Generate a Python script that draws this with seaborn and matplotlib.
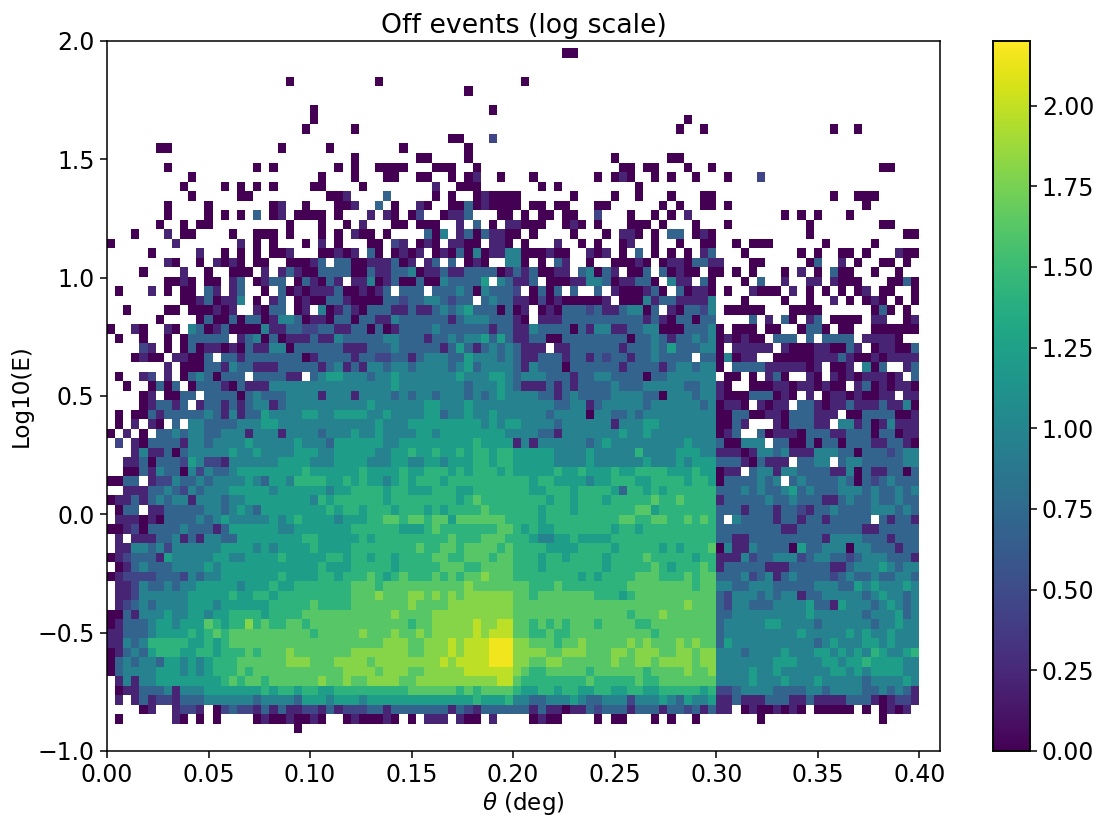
import numpy as np
import matplotlib
matplotlib.use("Agg")
import matplotlib.pyplot as plt
import seaborn as sns

# one character per cell, top row first, '.' = empty bin
# characters are indexes into level_values (log10 of the counts)
level_values = [0.0, 0.22, 0.45, 0.70, 0.97, 1.22, 1.42, 1.62, 1.80, 1.98, 2.15]
E = ".........."
rows = [
    f"{E} {E} {E} {E} {E} ......00.. {E} {E} {E} {E}",
    f"{E} {E} {E} {E} {E} {E} {E} {E} {E} {E}",
    f"{E} {E} {E} {E} {E} {E} {E} {E} {E} {E}",
    f"{E} {E} ..0....... ...0...... {E} .0........ {E} {E} {E} {E}",
    f"{E} {E} {E} {E} ....0..... {E} {E} {E} {E} {E}",
    f"{E} {E} {E} {E} {E} {E} {E} {E} {E} {E}",
    f"{E} {E} .....0.... {E} .......0.. {E} {E} {E} {E} {E}",
    f"{E} {E} .....0.... {E} {E} {E} {E} .0........ {E} {E}",
    f"{E} {E} ....0..... 0......... {E} {E} {E} 0..0...... .........0 ..0.......",
    f"{E} {E} {E} {E} ..00...2.. {E} {E} {E} {E} {E}",
    f"......00.. {E} .0.....0.. ......0... ....0..... {E} {E} {E} {E} {E}",
    f"{E} {E} {E} 0.......00 ....0..... {E} ..0......0 0......... {E} {E}",
    f".......0.. ........0. 0.......0. 0..0000... 000..0.... {E} ...00.00.. .0..0..... {E} .....00...",
    f"{E} 0......... ......0... 0...00..00 ..0.01..0. ..0....... 0.010..0.0 ..0...0... 2......... {E}",
    f".........0 ....0.0.0. 0....00... .0........ 1..000.... ...0.0.... .....0.... {E} {E} {E}",
    f"{E} 0.....00.. .......001 ....3..... 0.0..01000 0......0.. ..0..0...0 ...00..... .........0 ..000.....",
    f".......0.. ..0....... 01..0...00 1..3.0..10 ..00301000 0.00.00... 00......0. 0..00.0... {E} ...0......",
    f".......0.. ..0.0.0.3. 01.0000.0. ..1.10.02. .0113...00 .0.00.00.. 2...0..0.0 .1........ ...0.0.0.. .0........",
    f"......0..0 .00....... ..0...0..0 .1...00.00 0..1.3.0.1 1000..010. 0...000.0. ..0...0... ......0... .....00...",
    f"...0...1.0 0....0..00 0.0...0.0. 100.0....3 04.1303110 0.0....0.. .0.110.0.3 3.010..... ......0... ........00",
    f"0.......1. ......1.0. 0...0.1.0. ..00.21.01 0.1100.110 .0...1..0. 0..01..0.. 0..00..0.0 00......0. ....0.....",
    f".....0.... .1..0.0.0. 001...0010 1.30.0101. 0103040114 4000100..1 01.0.3.0.0 .0.13...0. .....0.0.. 00.0...100",
    f".......10. .0.1010.00 ..00013.33 00111301.1 3.3.010..4 40.0.31..0 ..00010.01 103311...0 0.....03.. 1.0..00.0.",
    f"....0....1 ..0..000.1 .131003333 0031133401 1311333301 3130011.34 031.003.30 100.00.0.0 ...0.1.0.3 00..0..0..",
    f".......001 0.00.13.01 33.031031. 1140130030 0433335.43 113.000114 43011330.4 11.30...0. 3..1..11.1 000...0030",
    ".0...1.0.0 0.31.13..0 .301011130 01013.333. 3334304333 2.0303.3.. 3.1000130. 30110.0..1 000.1.0.0. 0.01.00..0",
    ".........0 0130114.0. 13.0100331 0000332334 43233.3433 1102010000 01.0004133 11114...0. ...0..0..1 .0.010.0.0",
    "..0....00. 000101..10 33.01.4013 1033311311 3434533303 01.0103332 31134403.1 03324.0000 0...0000.. ....030.0.",
    "......0... .030030330 1443011033 0331143333 3313444333 10.1113333 3333331310 33033....3 .1.30.13.0 000.11..01",
    "0..10..10. 4301300004 1133223311 3303013333 4333333133 1143333031 4411334400 033340.000 .00..0330. 00..000000",
    ".0..0..0.0 33333.1340 3011131143 3333443331 3343445353 1133003333 3333033431 3343401010 0.333.3.33 33.11110..",
    "....21.0.0 3011010311 4403333331 1133343333 3135313434 3111.11333 3331333435 333440.111 11.1000110 031.011003",
    "...0100.11 003.331333 3333013333 1332233134 4433544434 3113331331 3233133433 33.3304011 ..00000111 3100101111",
    ".......1.0 0033143311 1333331341 3144344344 4434534444 3143330333 3331333313 443440.333 31111101.0 01.403..13",
    ".0..12.1.0 3430333.33 3311.34554 4434454444 4445444554 3444333133 4433330334 44444.00.0 .130..10.1 01011101.3",
    "..0..0303. 0333103111 4444444444 4444454444 4444344454 3111313133 3343334444 4334410..0 0011011010 0.13010110",
    "....01.003 3.33330343 3344441444 1444434344 3444343454 4443313433 3344443304 4434410003 33010.1.01 1010011.11",
    "....013313 .133131344 1344444444 4454444445 5444544444 4444433441 3444443444 444340110. 1011.33101 1311131140",
    ".0.0031333 3343141335 4444554455 5544544445 5344544544 4444344440 4433434444 4444400330 0110333111 .003333001",
    ".0.1.10.3. 4433334445 5444444444 4445444555 5555554545 5444434444 4414445544 444440031. ..1033311. 4413014111",
    "0.1.0.3343 4433444144 4144443444 5445444455 4555555554 4443314444 4445445444 44444013.. 3011103331 1333033011",
    ".2.1033331 4434444544 4445444355 5555445555 5555565555 1414444443 4544444444 4544430044 4.33003033 0333113310",
    "...1411303 4444454454 4445554455 5554455655 6556566566 5555544445 4444464444 5554411101 4434111444 3303332344",
    "..11303332 5422144444 4555544455 5544455445 5455566566 5555544445 4444445444 5455533310 3111.3344. 3443333344",
    "..00314330 4243345555 5555655555 5655556556 6656566656 5555565565 5565566665 55655011.3 4414433331 1403113303",
    "0033.12243 3434444543 5546666556 5655456566 6566666666 6656655554 5566655666 6566503333 434.343333 4303234333",
    "..11133432 4344455555 4555555455 6666566555 6665566666 6655666566 6653665656 6666633343 4334534333 4443433434",
    "0113134344 1444344555 5555546566 6666566666 6665676666 6666566566 6566666766 7666613333 3433433311 3433433433",
    ".033.11333 3344345435 5555555656 6566656665 6566667666 6665666566 6666677566 6666633313 3313321334 3333444343",
    ".111010333 3434544444 5456555545 5566776776 7757777776 6665666666 6667766776 676763.433 3313313313 3333.31331",
    "0012033334 3331355555 5445555555 6666665556 7666666677 6565566666 6656656666 6666633333 3331133333 3331133333",
    ".1.1113341 3144335555 5555665555 5656666666 6676667776 6654455655 5566666666 6666633113 3333333314 4443331333",
    ".114434244 4444555545 4555565555 6666666676 6776777767 6666555566 6656666656 5666704114 3333053344 4044333133",
    "0123331544 4445544555 5655555665 6656656666 7766777677 6665665666 6566667666 6656611142 3344423443 3234443331",
    ".013433344 4454555555 5555556555 6666656666 6777667777 6665666666 6566666765 6667613333 3111333331 1344454344",
    "0122223332 4344555555 5655556656 6676567666 7676778777 6666666656 5666677766 6767733342 3413433332 3433433443",
    ".112433434 4555554555 6556666666 7776777777 7777877777 7766676666 6666777777 7767744334 4433333444 3354544454",
    ".112444444 5555565566 5666666666 7778777887 8787888888 7767777777 6665677777 7777732444 3434413344 4443454434",
    ".123434444 5554555555 6666676666 7777777877 7788888888 7777777777 7777777777 7877732443 3344445331 5444345434",
    "0031444544 5545566665 6666777777 7777787777 8888888888 7777777777 7777677787 7777733444 4444445444 4443444534",
    "0133345545 5576566867 6677677777 7777777677 8888898899 7767676777 6777766777 7777734444 4554444344 4444344544",
    "1133345555 6567677777 7777767777 7877787787 8888898999 7766766777 7777777677 7777734444 4444454444 4545445444",
    "1143466666 5565677777 7777777777 7777888778 8898999aaa 8877767787 7777878777 8787735444 4444444345 4445545444",
    "0134356665 5665666767 7787777777 8888888778 8898999aaa 8888778887 7788788877 8878844434 4445444554 5454654456",
    "0343443554 5456667777 7788877788 8878888888 8989999aaa 8877887777 7787788788 8878844444 4455544455 4556555544",
    "0344445554 5456667677 7777777778 8887888778 8888999999 8766777776 7777776777 7877844445 4454444445 5454555544",
    ".141445555 5555676776 7777778778 7788887788 8888888899 7666666667 6666676677 7777744445 4445444544 4443444454",
    ".011333414 4455555556 5665665566 6666666777 7776767777 6556656655 6655665566 6665622344 4433334434 4443343431",
    ".1.1312213 3344444434 4443555455 5455555555 5555565556 4433444543 3444244454 3544511311 1333113111 1333101221",
    "....01..12 21.0232213 1311221312 2233133333 3313213333 3313110113 2333133313 3231311.01 001010.000 00.0.0101.",
    f".0......10 .0.0....01 0010010..0 100010.0.1 11.100.1.. ..0100.... 0.00...0.0 ..0....... 0......... .....0....",
    f"{E} {E} ...0...... {E} {E} {E} {E} {E} {E} {E}",
]
x_ticks = [0.00, 0.05, 0.10, 0.15, 0.20, 0.25, 0.30, 0.35, 0.40]
y_ticks = [-1.0, -0.5, 0.0, 0.5, 1.0, 1.5, 2.0]
cbar_ticks = [0.0, 0.25, 0.5, 0.75, 1.0, 1.25, 1.5, 1.75, 2.0]
x_width = 0.004      # deg per column
y_top = 1.969        # upper edge of the first row
y_height = 0.0402    # log10(E) per row

grid = []
for r in rows:
    cells = r.replace(" ", "")
    assert len(cells) == 100, (r, len(cells))
    grid.append([np.nan if c == "." else level_values[int(c, 16)] for c in cells])
grid = np.array(grid)

plt.rcParams["font.size"] = 17

fig = plt.figure(figsize=(11.03, 8.17), dpi=100)
ax = fig.add_axes([107 / 1103, 1 - 751 / 817, (940 - 107) / 1103, (751 - 41) / 817])
cax = fig.add_axes([993 / 1103, 1 - 751 / 817, (1030 - 993) / 1103, (751 - 41) / 817])

sns.heatmap(grid, ax=ax, cbar_ax=cax, cmap="viridis", vmin=0, vmax=2.2,
            xticklabels=False, yticklabels=False)

# heatmap works in cell numbers, so axis values are converted to them
to_col = lambda v: v / x_width
to_row = lambda v: (y_top - v) / y_height

ax.set_xlim(0, to_col(0.4102))
ax.set_ylim(to_row(-1.0), to_row(2.0))
ax.set_xticks([to_col(v) for v in x_ticks])
ax.set_xticklabels(["%.2f" % v for v in x_ticks], rotation=0)
ax.set_yticks([to_row(v) for v in y_ticks])
ax.set_yticklabels([("%.1f" % v).replace("-", "\u2212") for v in y_ticks], rotation=0)
ax.tick_params(length=5, width=1.1, left=True, bottom=True, pad=4)
for s in ax.spines.values():
    s.set_visible(True)
    s.set_linewidth(1.1)

ax.set_title("Off events (log scale)", fontsize=19.3, pad=6)
ax.set_xlabel(r"$\theta$ (deg)", fontsize=16.6, labelpad=2)
ax.set_ylabel("Log10(E)", fontsize=16.6, labelpad=3)

cax.set_yticks(cbar_ticks)
cax.set_yticklabels(["%.2f" % v for v in cbar_ticks])
cax.tick_params(length=5, width=1.1, right=True)
for s in cax.spines.values():
    s.set_visible(True)
    s.set_linewidth(1.1)

fig.savefig("out.png", dpi=100)
